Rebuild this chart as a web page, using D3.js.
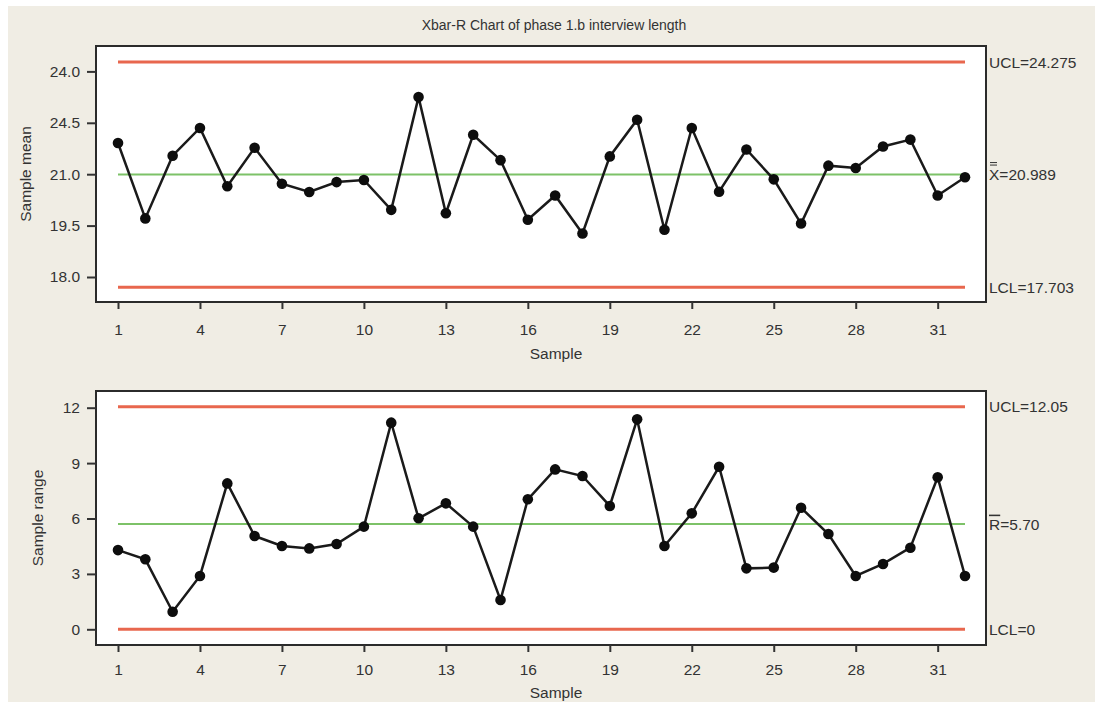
<!DOCTYPE html>
<html>
<head>
<meta charset="utf-8">
<script src="https://cdn.jsdelivr.net/npm/d3@7/dist/d3.min.js"></script>
<style>
    body { margin: 0; background: #ffffff; }
    svg { display: block; font-family: "Liberation Sans", Arial, sans-serif; }
</style>
</head>
<body>
<div id="chart"></div>
<script>
// sample numbers 1..32
const samples = d3.range(1, 33);
const xTicks = [1, 4, 7, 10, 13, 16, 19, 22, 25, 28, 31];

// Xbar chart (sample means)
const meanValues = [21.91, 19.71, 21.54, 22.35, 20.65, 21.77, 20.72, 20.48, 20.77, 20.83,
                    19.96, 23.25, 19.86, 22.15, 21.41, 19.67, 20.38, 19.27, 21.52, 22.59,
                    19.38, 22.35, 20.49, 21.72, 20.85, 19.56, 21.25, 21.18, 21.81, 22.01,
                    20.38, 20.91];
const meanTicks = [18, 19.5, 21, 22.5, 24];
const meanTickLabels = ["18.0", "19.5", "21.0", "24.5", "24.0"];
const meanLimits = [24.275, 20.989, 17.703];

// R chart (sample ranges)
const rangeValues = [4.29, 3.79, 0.95, 2.89, 7.90, 5.05, 4.51, 4.38, 4.62, 5.56,
                     11.19, 6.01, 6.82, 5.56, 1.59, 7.04, 8.66, 8.30, 6.68, 11.37,
                     4.51, 6.28, 8.80, 3.30, 3.34, 6.58, 5.16, 2.89, 3.54, 4.42,
                     8.23, 2.89];
const rangeTicks = [0, 3, 6, 9, 12];
const rangeTickLabels = ["0", "3", "6", "9", "12"];
const rangeLimits = [12.05, 5.70, 0];

const width = 1095, height = 702;
const frameLeft = 96, frameRight = 986;
const textColor = "#333333";
const red = "#e8674e", green = "#7dc268";

let svg = d3.select("#chart")
    .append("svg")
    .attr("width", width)
    .attr("height", height);

svg.append("rect")
    .attr("x", 8).attr("y", 6)
    .attr("width", width - 8).attr("height", height - 6)
    .attr("fill", "#f0ede4");

svg.append("text")
    .attr("x", 554).attr("y", 30)
    .attr("text-anchor", "middle")
    .attr("font-size", 14)
    .attr("fill", textColor)
    .text("Xbar-R Chart of phase 1.b interview length");

let x = d3.scaleLinear().domain([1, 32]).range([118, 965]);

function drawPanel(opts){
    let g = svg.append("g");

    g.append("rect")
        .attr("x", frameLeft).attr("y", opts.top)
        .attr("width", frameRight - frameLeft).attr("height", opts.bottom - opts.top)
        .attr("fill", "#ffffff")
        .attr("stroke", "#2b2b2b")
        .attr("stroke-width", 2);

    let yAxis = g.append("g")
        .attr("transform", "translate(" + frameLeft + ",0)")
        .call(d3.axisLeft(opts.y)
            .tickValues(opts.ticks)
            .tickFormat(function(d, i){ return opts.tickLabels[i]; })
            .tickSize(9)
            .tickPadding(7));

    let xAxis = g.append("g")
        .attr("transform", "translate(0," + opts.bottom + ")")
        .call(d3.axisBottom(x)
            .tickValues(xTicks)
            .tickFormat(d3.format("d"))
            .tickSize(7)
            .tickPadding(opts.xPad));

    [yAxis, xAxis].forEach(function(a){
        a.select(".domain").remove();
        a.selectAll(".tick line").attr("stroke", "#333").attr("stroke-width", 2);
        a.selectAll(".tick text")
            .attr("fill", textColor)
            .style("font-size", "15.5px")
            .style("font-family", "'Liberation Sans', Arial, sans-serif");
    });

    // control limit lines
    let limitColors = [red, green, red];
    g.selectAll(".limit")
        .data(opts.limits)
        .enter()
        .append("line")
        .attr("class", "limit")
        .attr("x1", x(1)).attr("x2", x(32))
        .attr("y1", function(d){ return opts.y(d); })
        .attr("y2", function(d){ return opts.y(d); })
        .attr("stroke", function(d, i){ return limitColors[i]; })
        .attr("stroke-width", function(d, i){ return i == 1 ? 2 : 3; });

    let line = d3.line()
        .x(function(d, i){ return x(samples[i]); })
        .y(function(d){ return opts.y(d); });

    g.append("path")
        .datum(opts.values)
        .attr("d", line)
        .attr("fill", "none")
        .attr("stroke", "#1a1a1a")
        .attr("stroke-width", 2.5);

    g.selectAll(".pt")
        .data(opts.values)
        .enter()
        .append("circle")
        .attr("class", "pt")
        .attr("cx", function(d, i){ return x(samples[i]); })
        .attr("cy", function(d){ return opts.y(d); })
        .attr("r", 5.3)
        .attr("fill", "#0d0d0d");

    // limit labels on the right
    let labels = g.selectAll(".limitLabel")
        .data(opts.limits)
        .enter()
        .append("text")
        .attr("class", "limitLabel")
        .attr("x", 989)
        .attr("y", function(d){ return opts.y(d); })
        .attr("dy", "0.36em")
        .attr("font-size", 15.5)
        .attr("fill", textColor);
    labels.each(function(d, i){
        let t = d3.select(this);
        if(i == 1){
            t.append("tspan").text(opts.centerSymbol)
                .attr("text-decoration", opts.centerSymbol == "R" ? "overline" : null);
            t.append("tspan").text("=" + opts.centerText);
        } else {
            t.text((i == 0 ? "UCL=" : "LCL=") + opts.limitText[i]);
        }
    });
    if(opts.centerSymbol == "X"){
        // double bar over the X
        let cy = opts.y(opts.limits[1]);
        g.selectAll(".xbar")
            .data([9.5, 12])
            .enter()
            .append("line")
            .attr("class", "xbar")
            .attr("x1", 990).attr("x2", 997)
            .attr("y1", function(d){ return cy - d; })
            .attr("y2", function(d){ return cy - d; })
            .attr("stroke", textColor)
            .attr("stroke-width", 1);
    }

    g.append("text")
        .attr("x", 556).attr("y", opts.titleY)
        .attr("dy", "0.36em")
        .attr("text-anchor", "middle")
        .attr("font-size", 15.5)
        .attr("fill", textColor)
        .text("Sample");

    g.append("text")
        .attr("transform", "translate(" + opts.yTitleX + "," + ((opts.top + opts.bottom) / 2) + ") rotate(-90)")
        .attr("dy", "0.36em")
        .attr("text-anchor", "middle")
        .attr("font-size", 15.5)
        .attr("fill", textColor)
        .text(opts.yTitle);
}

drawPanel({
    top: 46, bottom: 302,
    y: d3.scaleLinear().domain([18, 24]).range([277, 71.4]),
    ticks: meanTicks, tickLabels: meanTickLabels,
    values: meanValues, limits: meanLimits,
    limitText: ["24.275", "20.989", "17.703"],
    centerSymbol: "X", centerText: "20.989",
    xPad: 15, titleY: 353,
    yTitle: "Sample mean", yTitleX: 25
});

drawPanel({
    top: 391, bottom: 645,
    y: d3.scaleLinear().domain([0, 12]).range([629.3, 407.7]),
    ticks: rangeTicks, tickLabels: rangeTickLabels,
    values: rangeValues, limits: rangeLimits,
    limitText: ["12.05", "5.70", "0"],
    centerSymbol: "R", centerText: "5.70",
    xPad: 12, titleY: 692,
    yTitle: "Sample range", yTitleX: 37
});
</script>
</body>
</html>
